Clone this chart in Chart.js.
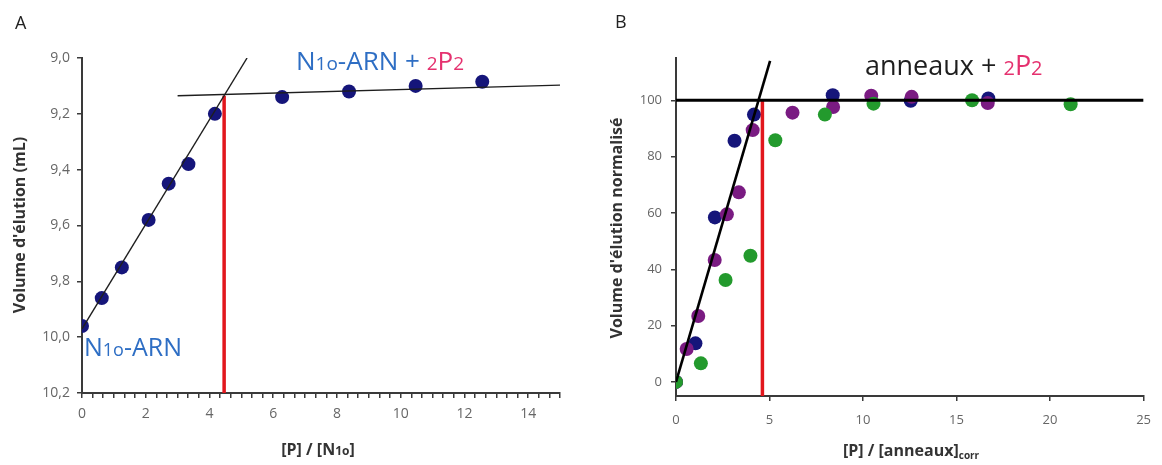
<!DOCTYPE html>
<html><head><meta charset="utf-8">
<script src="https://cdn.jsdelivr.net/npm/chart.js@4"></script>
<style>
html,body{margin:0;padding:0;background:#fff;}
#wrap{position:relative;width:1162px;height:465px;background:#fff;}
#cA{position:absolute;left:0;top:0;width:580px;height:465px;}
#cB{position:absolute;left:580px;top:0;width:582px;height:465px;}
</style></head><body>
<div id="wrap"><canvas id="cA" width="580" height="465"></canvas><canvas id="cB" width="582" height="465"></canvas></div>
<script>
// ---------- Panel A data ----------
const aX = [0, 0.62, 1.25, 2.09, 2.72, 3.34, 4.17, 6.28, 8.38, 10.47, 12.56];
const aY = [9.96, 9.86, 9.75, 9.58, 9.45, 9.38, 9.20, 9.14, 9.12, 9.10, 9.085];
const aFitX = [0, 5.18],   aFitY = [9.97, 9.0];
const aPlatX = [3.0, 15],  aPlatY = [9.135, 9.097];
const aRedX = [4.46, 4.46], aRedY = [9.135, 10.2];
const aXTickLabels = [0, 2, 4, 6, 8, 10, 12, 14];
const aYTicks = [9.0, 9.2, 9.4, 9.6, 9.8, 10.0, 10.2];

// ---------- Panel B data ----------
const bBlueX = [0, 1.04, 2.08, 3.13, 4.17, 8.38, 12.55, 16.7];
const bBlueY = [0, 13.7, 58.4, 85.6, 94.9, 101.8, 99.8, 100.6];
const bPurpleX = [0, 0.57, 1.19, 2.07, 2.72, 3.36, 4.1, 6.23, 8.4, 10.44, 12.6, 16.67];
const bPurpleY = [0, 11.7, 23.4, 43.3, 59.5, 67.3, 89.4, 95.6, 97.6, 101.6, 101.2, 99.0];
const bGreenX = [0, 1.33, 2.65, 3.98, 5.31, 7.96, 10.56, 15.83, 21.1];
const bGreenY = [0, 6.6, 36.2, 44.8, 85.8, 94.9, 98.8, 100.0, 98.6];
const bFitX = [0, 5.03],  bFitY = [0, 114];
const bPlatX = [0, 25],   bPlatY = [100, 100];
const bRedX = [4.62, 4.62], bRedY = [100, -5];
const bXTicks = [0, 5, 10, 15, 20, 25];
const bYTicks = [0, 20, 40, 60, 80, 100];

// ---------- styles ----------
const FONT = "'Open Sans', sans-serif";
const NAVY = '#15157a', PURPLE = '#7a1b82', GREEN = '#239a2d';
const RED = '#e2171d', BLUE_TXT = '#2e6ec4', PINK = '#e5316f';
const TICK_TXT = '#666', AXIS = '#3a3a3a';

const pts = (xs, ys) => xs.map((x, i) => ({x, y: ys[i]}));
const lineDs = (xs, ys, color, w) => ({data: pts(xs, ys), showLine: true, borderColor: color, borderWidth: w, pointRadius: 0, fill: false});
const dotDs = (xs, ys, color) => ({data: pts(xs, ys), showLine: false, pointRadius: 7, backgroundColor: color, borderWidth: 0});

function rich(ctx, x, y, parts, align) {
  let w = 0;
  parts.forEach(p => { ctx.font = (p.b ? 'bold ' : '') + p.s + 'px ' + FONT; p.w = ctx.measureText(p.t).width; w += p.w; });
  let cx = align === 'center' ? x - w / 2 : x;
  ctx.textBaseline = 'alphabetic'; ctx.textAlign = 'left';
  parts.forEach(p => {
    ctx.font = (p.b ? 'bold ' : '') + p.s + 'px ' + FONT;
    ctx.fillStyle = p.c;
    ctx.fillText(p.t, cx, y + (p.dy || 0));
    cx += p.w;
  });
}

function scaleCfg(o) {
  return Object.assign({
    type: 'linear',
    grid: {drawOnChartArea: false, drawTicks: true, tickLength: 5, color: AXIS, lineWidth: 1.5},
    border: {display: true, color: AXIS, width: 2},
    title: {display: false}
  }, o);
}

const annotA = {
  id: 'annotA',
  afterDraw(chart) {
    const ctx = chart.ctx; ctx.save();
    rich(ctx, 15, 29, [{t: 'A', s: 18, c: '#222'}]);
    rich(ctx, 296, 70, [
      {t: 'N', s: 26, c: BLUE_TXT}, {t: '1o', s: 19, c: BLUE_TXT}, {t: '-ARN + ', s: 26, c: BLUE_TXT},
      {t: '2', s: 19, c: PINK}, {t: 'P', s: 26, c: PINK}, {t: '2', s: 19, c: PINK}]);
    rich(ctx, 84, 356, [
      {t: 'N', s: 25, c: BLUE_TXT}, {t: '1o', s: 18, c: BLUE_TXT}, {t: '-ARN', s: 25, c: BLUE_TXT}]);
    // axis titles
    rich(ctx, 318, 455, [
      {t: '[P] / [N', s: 16, c: '#333', b: true}, {t: '1o', s: 12, c: '#333', b: true}, {t: ']', s: 16, c: '#333', b: true}], 'center');
    ctx.translate(25, 225); ctx.rotate(-Math.PI / 2);
    rich(ctx, 0, 0, [{t: "Volume d'élution (mL)", s: 16, c: '#333', b: true}], 'center');
    ctx.restore();
  }
};

const annotB = {
  id: 'annotB',
  afterDraw(chart) {
    const ctx = chart.ctx; ctx.save();
    rich(ctx, 35, 28, [{t: 'B', s: 18, c: '#222'}]);
    rich(ctx, 285, 75, [
      {t: 'anneaux + ', s: 27, c: '#1e1e1e'},
      {t: '2', s: 20, c: PINK}, {t: 'P', s: 27, c: PINK}, {t: '2', s: 20, c: PINK}]);
    rich(ctx, 263, 456, [
      {t: '[P] / [anneaux]', s: 16, c: '#333', b: true}, {t: 'corr', s: 10, c: '#333', b: true, dy: 3}]);
    ctx.translate(42, 228); ctx.rotate(-Math.PI / 2);
    rich(ctx, 0, 0, [{t: "Volume d'élution normalisé", s: 16, c: '#333', b: true}], 'center');
    ctx.restore();
  }
};

const common = {
  responsive: false, animation: false, events: [],
  plugins: {legend: {display: false}, tooltip: {enabled: false}},
};

new Chart(document.getElementById('cA'), {
  type: 'scatter',
  data: {datasets: [
    lineDs(aFitX, aFitY, '#1e1e1e', 1.4),
    lineDs(aPlatX, aPlatY, '#1e1e1e', 1.4),
    lineDs(aRedX, aRedY, RED, 3.5),
    dotDs(aX, aY, NAVY)
  ]},
  options: Object.assign({}, common, {
    layout: {padding: {left: 0, right: 20, top: 58, bottom: 0}},
    scales: {
      x: scaleCfg({
        min: 0, max: 15,
        afterFit: s => { s.height = 72; },
        afterBuildTicks: s => {
          const t = [];
          for (let k = 0; k <= 45; k++) t.push({value: k / 3});
          s.ticks = t;
        },
        ticks: {autoSkip: false, maxRotation: 0, minRotation: 0, padding: 8, color: TICK_TXT, font: {family: FONT, size: 14},
          callback: v => { const m = aXTickLabels.find(l => Math.abs(l - v) < 1e-6); return m === undefined ? '' : String(m); }}
      }),
      y: scaleCfg({
        min: 9.0, max: 10.2, reverse: true,
        afterFit: s => { s.width = 82; },
        afterBuildTicks: s => { s.ticks = aYTicks.map(v => ({value: v})); },
        ticks: {autoSkip: false, padding: 7, color: TICK_TXT, font: {family: FONT, size: 14},
          callback: v => v.toFixed(1).replace('.', ',')}
      })
    }
  }),
  plugins: [annotA]
});

new Chart(document.getElementById('cB'), {
  type: 'scatter',
  data: {datasets: [
    lineDs(bFitX, bFitY, '#000', 2.6),
    lineDs(bPlatX, bPlatY, '#000', 3),
    lineDs(bRedX, bRedY, RED, 3.5),
    dotDs(bGreenX, bGreenY, GREEN),
    dotDs(bPurpleX, bPurpleY, PURPLE),
    dotDs(bBlueX, bBlueY, NAVY)
  ]},
  options: Object.assign({}, common, {
    layout: {padding: {left: 0, right: 15, top: 58, bottom: 0}},
    scales: {
      x: scaleCfg({
        min: 0, max: 25,
        afterFit: s => { s.height = 69; },
        afterBuildTicks: s => { s.ticks = bXTicks.map(v => ({value: v})); },
        ticks: {autoSkip: false, maxRotation: 0, minRotation: 0, padding: 11, color: TICK_TXT, font: {family: FONT, size: 13}}
      }),
      y: scaleCfg({
        min: -5, max: 115,
        afterFit: s => { s.width = 96; },
        afterBuildTicks: s => { s.ticks = bYTicks.map(v => ({value: v})); },
        ticks: {autoSkip: false, padding: 9, color: TICK_TXT, font: {family: FONT, size: 13}}
      })
    }
  }),
  plugins: [annotB]
});
</script>
</body></html>
